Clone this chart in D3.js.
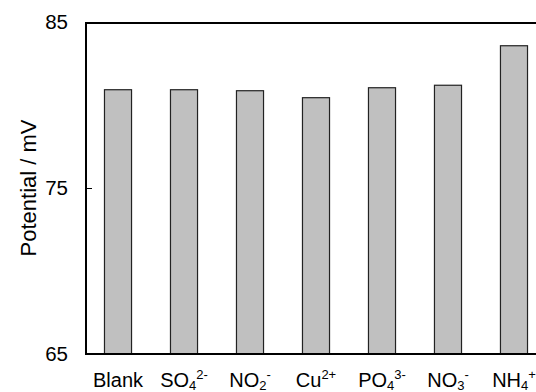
<!DOCTYPE html>
<html>
<head>
<meta charset="utf-8">
<script src="https://d3js.org/d3.v7.min.js"></script>
<style>
body { margin: 0; background: #fff; }
svg { display: block; font-family: "Liberation Sans", Arial, sans-serif; }
</style>
</head>
<body>
<svg width="536" height="392"></svg>
<script>
// ions tested, and measured potential (mV)
var ions = ["Blank", "SO4", "NO2", "Cu", "PO4", "NO3", "NH4"];
var potentials = [80.92, 80.92, 80.86, 80.44, 81.04, 81.19, 83.57];
var yTicks = [65, 75, 85];

// label parts: [base, subscript, superscript]
var ionLabels = [
  ["Blank", "", ""],
  ["SO", "4", "2-"],
  ["NO", "2", "-"],
  ["Cu", "", "2+"],
  ["PO", "4", "3-"],
  ["NO", "3", "-"],
  ["NH", "4", "+"]
];

var svg = d3.select("svg");
var margin = {top: 22, left: 86};
var plotRight = 546;
var plotBottom = 354;

var xScale = d3.scaleBand()
  .domain(ions)
  .range([margin.left, plotRight])
  .paddingInner(0.59)
  .paddingOuter(0.28);

var yScale = d3.scaleLinear()
  .domain([65, 85])
  .range([plotBottom, margin.top]);

// bars
svg.append("g")
  .selectAll("rect")
  .data(ions)
  .enter()
  .append("rect")
  .attr("x", function(d) { return xScale(d); })
  .attr("y", function(d, i) { return yScale(potentials[i]); })
  .attr("width", xScale.bandwidth())
  .attr("height", function(d, i) { return plotBottom - yScale(potentials[i]); })
  .attr("fill", "#c0c0c0")
  .attr("stroke", "#222")
  .attr("stroke-width", 1.2);

// y axis, ticks pointing in
var yAxis = d3.axisRight(yScale)
  .tickValues(yTicks)
  .tickSize(6)
  .tickFormat("");
var yg = svg.append("g")
  .attr("transform", "translate(" + margin.left + ",0)")
  .call(yAxis);
yg.select(".domain").remove();
yg.selectAll("line").attr("stroke", "#000").attr("stroke-width", 1);

svg.append("g")
  .selectAll("text")
  .data(yTicks)
  .enter()
  .append("text")
  .attr("x", 68)
  .attr("y", function(d) { return yScale(d); })
  .attr("dy", "0.36em")
  .attr("text-anchor", "end")
  .attr("font-size", "20.5px")
  .attr("fill", "#000")
  .text(function(d) { return d; });

// frame
svg.append("rect")
  .attr("x", margin.left)
  .attr("y", margin.top + 1)
  .attr("width", plotRight - margin.left)
  .attr("height", plotBottom - margin.top - 1)
  .attr("fill", "none")
  .attr("stroke", "#000")
  .attr("stroke-width", 2);

// category labels with sub/superscripts
var labels = svg.append("g")
  .selectAll("text")
  .data(ionLabels)
  .enter()
  .append("text")
  .attr("x", function(d, i) { return xScale(ions[i]) + xScale.bandwidth() / 2; })
  .attr("y", 387)
  .attr("text-anchor", "middle")
  .attr("font-size", "20px")
  .attr("fill", "#000");

labels.each(function(d) {
  var t = d3.select(this);
  t.append("tspan").text(d[0]);
  if (d[1]) {
    t.append("tspan").attr("font-size", "13px").attr("dy", 3).text(d[1]);
  }
  if (d[2]) {
    t.append("tspan").attr("font-size", "13px")
      .attr("dy", d[1] ? -11 : -8)
      .text(d[2]);
  }
});

// axis title
svg.append("text")
  .attr("transform", "translate(36," + ((margin.top + plotBottom) / 2) + ") rotate(-90)")
  .attr("text-anchor", "middle")
  .attr("font-size", "22px")
  .attr("fill", "#000")
  .text("Potential / mV");
</script>
</body>
</html>
